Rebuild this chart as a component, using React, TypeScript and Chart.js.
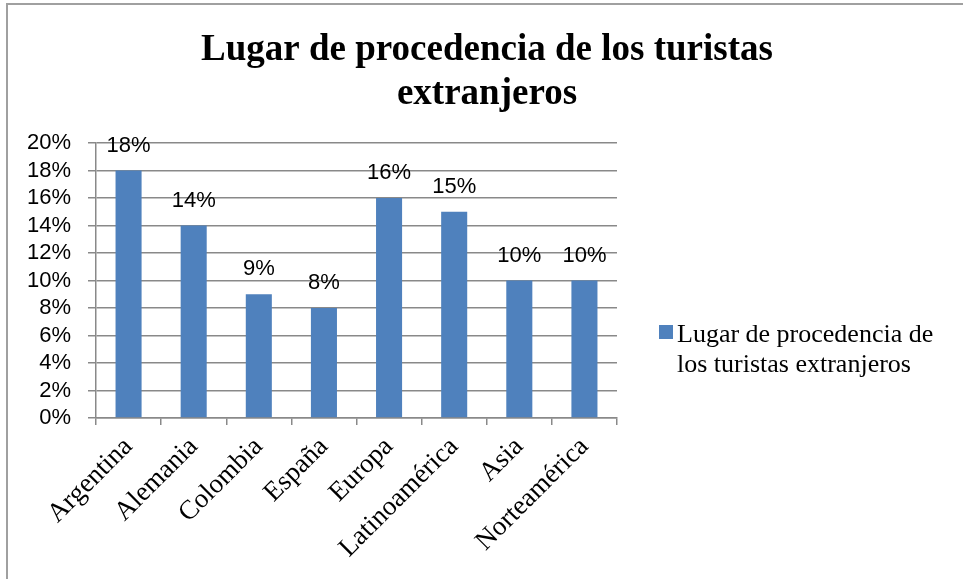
import { useEffect, useRef } from "react";
import { Chart, registerables } from "chart.js";

Chart.register(...registerables);

const titleLines = ["Lugar de procedencia de los turistas", "extranjeros"];
const categories = [
  "Argentina",
  "Alemania",
  "Colombia",
  "España",
  "Europa",
  "Latinoamérica",
  "Asia",
  "Norteamérica",
];
const seriesName = "Lugar de procedencia de los turistas extranjeros";
const seriesValues = [18, 14, 9, 8, 16, 15, 10, 10];
const legendLines = ["Lugar de procedencia de", "los turistas extranjeros"];
const yMin = 0;
const yMax = 20;
const yStep = 2;

const BAR_COLOR = "#4F81BD";
const GRID_COLOR = "#898989";
const SANS = "'Liberation Sans', Arial, sans-serif";
const SERIF = "'Liberation Serif', 'Times New Roman', serif";

const decorPlugin = {
  id: "decor",
  beforeDraw(chart: any) {
    const { ctx, width, height } = chart;
    ctx.save();
    ctx.fillStyle = "#ffffff";
    ctx.fillRect(0, 0, width, height);
    ctx.strokeStyle = "#a0a0a0";
    ctx.lineWidth = 2;
    ctx.beginPath();
    ctx.moveTo(7, height);
    ctx.lineTo(7, 4);
    ctx.lineTo(width, 4);
    ctx.stroke();
    ctx.restore();
  },
  afterDatasetsDraw(chart: any) {
    const { ctx } = chart;
    const meta = chart.getDatasetMeta(0);
    ctx.save();
    ctx.fillStyle = "#000000";
    ctx.font = `22px ${SANS}`;
    ctx.textAlign = "center";
    ctx.textBaseline = "alphabetic";
    meta.data.forEach((bar: any, i: number) => {
      ctx.fillText(`${seriesValues[i]}%`, bar.x, bar.y - 19);
    });
    ctx.restore();
  },
  afterDraw(chart: any) {
    const { ctx, chartArea } = chart;
    ctx.save();
    ctx.fillStyle = "#000000";
    ctx.font = `bold 37px ${SERIF}`;
    ctx.textAlign = "center";
    ctx.textBaseline = "alphabetic";
    ctx.fillText(titleLines[0], 487, 60);
    ctx.fillText(titleLines[1], 487, 104);

    // legend
    const lx = chartArea.right + 42;
    ctx.fillStyle = BAR_COLOR;
    ctx.fillRect(lx, 325, 14, 14);
    ctx.fillStyle = "#000000";
    ctx.font = `26px ${SERIF}`;
    ctx.textAlign = "left";
    ctx.fillText(legendLines[0], lx + 18, 342);
    ctx.fillText(legendLines[1], lx + 18, 372);
    ctx.restore();
  },
};

export default function App() {
  const canvasRef = useRef<HTMLCanvasElement | null>(null);

  useEffect(() => {
    document.body.style.margin = "0";
    const canvas = canvasRef.current;
    if (!canvas) return;
    const chart = new Chart(canvas, {
      type: "bar",
      data: {
        labels: categories,
        datasets: [
          {
            label: seriesName,
            data: seriesValues,
            backgroundColor: BAR_COLOR,
            borderWidth: 0,
            barPercentage: 0.4,
            categoryPercentage: 1,
          },
        ],
      },
      options: {
        responsive: false,
        animation: false,
        devicePixelRatio: 1,
        layout: { padding: { left: 0, top: 143, right: 346, bottom: 0 } },
        plugins: {
          legend: { display: false },
          title: { display: false },
          tooltip: { enabled: false },
        },
        scales: {
          x: {
            afterFit(scale: any) {
              scale.height = 161;
            },
            grid: {
              display: true,
              drawOnChartArea: false,
              drawTicks: true,
              tickLength: 7,
              offset: true,
              color: GRID_COLOR,
              lineWidth: 1.5,
            },
            border: { display: true, color: GRID_COLOR, width: 1.5 },
            ticks: {
              autoSkip: false,
              minRotation: 45,
              maxRotation: 45,
              color: "#000000",
              font: { family: SERIF, size: 27 },
              padding: 6,
            },
          },
          y: {
            min: yMin,
            max: yMax,
            afterFit(scale: any) {
              scale.width = 96;
            },
            grid: {
              display: true,
              drawTicks: true,
              tickLength: 8,
              color: GRID_COLOR,
              lineWidth: 1.5,
            },
            border: { display: true, color: GRID_COLOR, width: 1.5 },
            ticks: {
              stepSize: yStep,
              autoSkip: false,
              color: "#000000",
              font: { family: SANS, size: 22 },
              padding: 17,
              callback: (v: any) => `${v}%`,
            },
          },
        },
      },
      plugins: [decorPlugin],
    });
    return () => chart.destroy();
  }, []);

  return (
    <div style={{ width: 963, height: 579 }}>
      <canvas ref={canvasRef} width={963} height={579} style={{ display: "block" }} />
    </div>
  );
}
